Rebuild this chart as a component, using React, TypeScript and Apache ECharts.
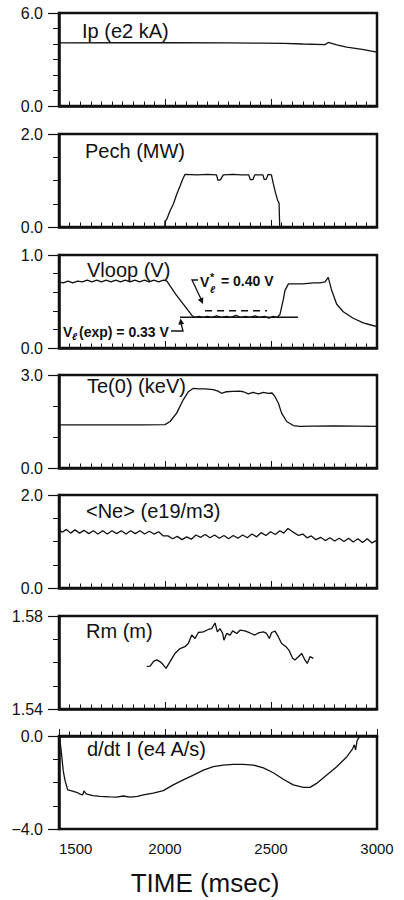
import React, { useEffect, useRef } from "react";
import * as echarts from "echarts";

// Time axis (msec)
const timeRange = [1500, 3000];
const timeTickLabels = ["1500", "2000", "2500", "3000"];

// Plasma current Ip (e2 kA)
const ipData: [number, number][] = [
  [1500, 4.07], [1800, 4.08], [2000, 4.08], [2300, 4.07], [2450, 4.06], [2560, 4.04],
  [2650, 4.0], [2755, 3.96], [2770, 4.1], [2810, 3.95], [2857, 3.8], [2930, 3.65], [3000, 3.47],
];

// ECH power Pech (MW)
const pechData: [number, number][] = [
  [1500, 0], [1999, 0], [2000, 0.13], [2008, 0.16], [2023, 0.34], [2039, 0.49], [2055, 0.7],
  [2071, 0.88], [2083, 1.02], [2094, 1.13], [2150, 1.12], [2200, 1.13], [2243, 1.12],
  [2250, 1.0], [2262, 1.02], [2275, 1.12], [2320, 1.13], [2360, 1.12], [2395, 1.12],
  [2402, 1.02], [2415, 1.02], [2423, 1.12], [2462, 1.12], [2468, 1.02], [2478, 1.03],
  [2486, 1.13], [2502, 1.12], [2510, 0.95], [2521, 0.74], [2533, 0.55], [2538, 0.52],
  [2541, 0.02], [2546, 0], [3000, 0],
];

// Loop voltage Vloop (V)
const vloopData: [number, number][] = [
  [1500, 0.71], [1520, 0.7], [1543, 0.72], [1565, 0.7], [1588, 0.72], [1610, 0.71],
  [1633, 0.73], [1655, 0.71], [1678, 0.73], [1700, 0.71], [1723, 0.73], [1745, 0.71],
  [1768, 0.73], [1790, 0.71], [1813, 0.73], [1835, 0.71], [1858, 0.73], [1880, 0.71],
  [1903, 0.73], [1925, 0.71], [1948, 0.73], [1970, 0.71], [1993, 0.73], [2009, 0.72],
  [2050, 0.58], [2090, 0.46], [2127, 0.35], [2140, 0.33], [2160, 0.34], [2180, 0.33],
  [2200, 0.34], [2220, 0.33], [2245, 0.345], [2265, 0.33], [2290, 0.34], [2310, 0.33],
  [2335, 0.35], [2355, 0.33], [2380, 0.34], [2400, 0.33], [2425, 0.345], [2445, 0.33],
  [2470, 0.34], [2490, 0.32], [2510, 0.34], [2530, 0.33], [2542, 0.36], [2558, 0.52],
  [2566, 0.62], [2582, 0.69], [2605, 0.69], [2650, 0.69], [2700, 0.7], [2731, 0.7],
  [2755, 0.71], [2770, 0.76], [2786, 0.62], [2810, 0.47], [2841, 0.39], [2888, 0.32],
  [2935, 0.27], [2967, 0.25], [3000, 0.23],
];
// Reference loop-voltage levels
const vlExp = 0.33;
const vlStar = 0.4;
const vlExpSpan = [2071, 2627];
const vlStarSpan = [2189, 2481];

// Central electron temperature Te(0) (keV)
const teData: [number, number][] = [
  [1500, 1.39], [1700, 1.39], [1900, 1.39], [2000, 1.4], [2024, 1.5], [2055, 1.77],
  [2086, 2.2], [2110, 2.46], [2134, 2.57], [2160, 2.55], [2190, 2.55], [2228, 2.53],
  [2250, 2.48], [2267, 2.41], [2290, 2.46], [2320, 2.47], [2350, 2.48], [2370, 2.46],
  [2393, 2.39], [2415, 2.44], [2440, 2.39], [2465, 2.44], [2487, 2.41], [2505, 2.42],
  [2519, 2.3], [2535, 2.09], [2550, 1.77], [2574, 1.5], [2605, 1.37], [2637, 1.34],
  [2700, 1.35], [2800, 1.36], [2900, 1.35], [3000, 1.34],
];

// Line-averaged density <Ne> (e19/m3)
const neData: [number, number][] = [
  [1500, 1.26], [1515, 1.2], [1535, 1.26], [1555, 1.18], [1575, 1.25], [1597, 1.18],
  [1618, 1.24], [1640, 1.17], [1662, 1.23], [1684, 1.16], [1706, 1.23], [1728, 1.16],
  [1750, 1.23], [1772, 1.17], [1794, 1.23], [1816, 1.16], [1838, 1.23], [1860, 1.17],
  [1882, 1.23], [1904, 1.16], [1926, 1.22], [1948, 1.16], [1970, 1.21], [1992, 1.12],
  [2014, 1.12], [2036, 1.06], [2058, 1.11], [2080, 1.04], [2102, 1.1], [2124, 1.05],
  [2146, 1.14], [2168, 1.09], [2190, 1.15], [2212, 1.08], [2234, 1.14], [2256, 1.07],
  [2278, 1.13], [2300, 1.06], [2322, 1.13], [2344, 1.07], [2366, 1.14], [2388, 1.08],
  [2410, 1.16], [2432, 1.1], [2454, 1.19], [2476, 1.13], [2498, 1.21], [2520, 1.15],
  [2542, 1.23], [2560, 1.18], [2580, 1.28], [2595, 1.23], [2612, 1.18], [2630, 1.13],
  [2650, 1.16], [2670, 1.08], [2690, 1.12], [2712, 1.04], [2734, 1.09], [2756, 1.02],
  [2778, 1.08], [2800, 1.01], [2822, 1.07], [2844, 1.0], [2866, 1.07], [2888, 0.99],
  [2910, 1.06], [2932, 0.98], [2954, 1.06], [2976, 0.97], [3000, 1.03],
];

// Major radius Rm (m)
const rmData: [number, number][] = [
  [1914, 1.5583], [1930, 1.5584], [1946, 1.5605], [1961, 1.5611], [1976, 1.5604],
  [1992, 1.559], [2005, 1.5575], [2024, 1.5604], [2047, 1.5639], [2071, 1.566],
  [2094, 1.5668], [2110, 1.5682], [2126, 1.5718], [2142, 1.5703], [2157, 1.5729],
  [2181, 1.5732], [2204, 1.5742], [2220, 1.5746], [2236, 1.577], [2247, 1.5732],
  [2259, 1.5746], [2272, 1.5725], [2278, 1.5696], [2291, 1.5725], [2307, 1.5718],
  [2319, 1.5736], [2338, 1.5725], [2354, 1.5739], [2377, 1.5736], [2401, 1.5727],
  [2424, 1.5718], [2440, 1.5727], [2464, 1.5732], [2479, 1.5725], [2492, 1.5703],
  [2503, 1.5729], [2519, 1.5735], [2535, 1.571], [2550, 1.5682], [2571, 1.5668],
  [2586, 1.5651], [2602, 1.5618], [2613, 1.5611], [2629, 1.5625], [2645, 1.5639],
  [2660, 1.5611], [2671, 1.5596], [2684, 1.5625], [2700, 1.5618],
];

// Current derivative d/dt I (e4 A/s)
const didtData: [number, number][] = [
  [1502, -0.05], [1510, -0.6], [1520, -1.5], [1528, -1.9], [1541, -2.32], [1560, -2.36],
  [1583, -2.42], [1600, -2.5], [1612, -2.53], [1618, -2.36], [1628, -2.49], [1660, -2.56],
  [1693, -2.6], [1740, -2.62], [1772, -2.63], [1803, -2.58], [1835, -2.63], [1870, -2.6],
  [1898, -2.53], [1945, -2.46], [1992, -2.35], [2039, -2.1], [2086, -1.89], [2134, -1.68],
  [2181, -1.47], [2228, -1.32], [2275, -1.25], [2322, -1.22], [2369, -1.22], [2417, -1.25],
  [2464, -1.37], [2511, -1.58], [2558, -1.86], [2605, -2.1], [2653, -2.21], [2684, -2.21],
  [2715, -2.04], [2763, -1.68], [2810, -1.32], [2857, -0.9], [2885, -0.55], [2893, -0.38],
  [2899, -0.6], [2906, -0.2], [2918, -0.02],
];

// Y-axis end labels for each panel
const ipTickLabels = ["0.0", "6.0"];
const pechTickLabels = ["0.0", "2.0"];
const vloopTickLabels = ["0.0", "1.0"];
const teTickLabels = ["0.0", "3.0"];
const neTickLabels = ["0.0", "2.0"];
const rmTickLabels = ["1.54", "1.58"];
const didtTickLabels = ["\u22124.0", "0.0"];

const panels = [
  { title: "Ip (e2 kA)", data: ipData, min: 0, max: 6, step: 1, labels: ipTickLabels },
  { title: "Pech (MW)", data: pechData, min: 0, max: 2, step: 0.5, labels: pechTickLabels },
  { title: "Vloop (V)", data: vloopData, min: 0, max: 1, step: 0.2, labels: vloopTickLabels },
  { title: "Te(0) (keV)", data: teData, min: 0, max: 3, step: 1, labels: teTickLabels },
  { title: "<Ne> (e19/m3)", data: neData, min: 0, max: 2, step: 0.5, labels: neTickLabels },
  { title: "Rm (m)", data: rmData, min: 1.54, max: 1.58, step: 0.01, labels: rmTickLabels },
  { title: "d/dt I (e4 A/s)", data: didtData, min: -4, max: 0, step: 1, labels: didtTickLabels },
];

// Panel frame layout
const FRAME_LEFT = 59;
const FRAME_WIDTH = 318;
const FRAME_HEIGHT = 93;
const frameTops = [13, 134, 255, 375, 495, 616, 736];
const titleOffsets = [19, 18, 16, 12, 17, 16, 14];
const titleLefts = [82, 85, 87, 87, 86, 86, 87];

const INK = "#111";
const FONT = "'Liberation Sans', Arial, sans-serif";

function arrowHead(tip: number[], from: number[], len = 6, half = 3) {
  const dx = tip[0] - from[0];
  const dy = tip[1] - from[1];
  const d = Math.hypot(dx, dy) || 1;
  const ux = dx / d;
  const uy = dy / d;
  const bx = tip[0] - ux * len;
  const by = tip[1] - uy * len;
  return {
    type: "polygon",
    shape: {
      points: [
        tip,
        [bx - uy * half, by + ux * half],
        [bx + uy * half, by - ux * half],
      ],
    },
    style: { fill: INK },
    silent: true,
  };
}

function buildOption() {
  const grids: any[] = [];
  const xAxes: any[] = [];
  const yAxes: any[] = [];
  const series: any[] = [];
  const graphics: any[] = [];
  const last = panels.length - 1;

  panels.forEach((p, i) => {
    grids.push({
      left: FRAME_LEFT,
      top: frameTops[i],
      width: FRAME_WIDTH,
      height: FRAME_HEIGHT,
      show: true,
      borderColor: INK,
      borderWidth: 2.5,
      backgroundColor: "transparent",
    });
    xAxes.push({
      type: "value",
      gridIndex: i,
      position: "bottom",
      min: timeRange[0],
      max: timeRange[1],
      interval: 500,
      axisLine: { show: true, lineStyle: { color: INK, width: 2.5 } },
      axisTick: { show: true, inside: true, length: 7, lineStyle: { color: INK, width: 1 } },
      minorTick: { show: true, splitNumber: 10, length: 4.5, lineStyle: { color: INK, width: 1 } },
      splitLine: { show: false },
      minorSplitLine: { show: false },
      axisLabel: {
        show: i === last,
        margin: 12,
        fontFamily: FONT,
        fontSize: 15,
        color: INK,
        alignMinLabel: "left",
        formatter: (v: number) => {
          const k = Math.round((v - timeRange[0]) / 500);
          return timeTickLabels[k] ?? "";
        },
      },
      name: i === last ? "TIME (msec)" : "",
      nameLocation: "middle",
      nameGap: 41,
      nameTextStyle: {
        fontFamily: FONT,
        fontSize: 26,
        color: INK,
        padding: [0, 26, 0, 0],
      },
    });
    // Minor ticks along the value axis
    yAxes.push({
      type: "value",
      gridIndex: i,
      position: "left",
      min: p.min,
      max: p.max,
      interval: p.step,
      axisLine: { show: true, lineStyle: { color: INK, width: 2.5 } },
      axisTick: { show: true, inside: false, length: 6, lineStyle: { color: INK, width: 1 } },
      axisLabel: { show: false },
      splitLine: { show: false },
    });
    // End ticks carrying the labels
    yAxes.push({
      type: "value",
      gridIndex: i,
      position: "left",
      min: 0,
      max: 1,
      interval: 1,
      axisLine: { show: false },
      axisTick: { show: true, inside: false, length: 11, lineStyle: { color: INK, width: 1.2 } },
      axisLabel: {
        show: true,
        margin: 16,
        fontFamily: FONT,
        fontSize: 16,
        color: INK,
        formatter: (v: number) => (v < 0.5 ? p.labels[0] : p.labels[1]),
      },
      splitLine: { show: false },
    });
    series.push({
      type: "line",
      name: p.title,
      xAxisIndex: i,
      yAxisIndex: 2 * i,
      data: p.data,
      symbol: "none",
      clip: true,
      lineStyle: { color: INK, width: 1.3 },
    });
    graphics.push({
      type: "text",
      left: titleLefts[i],
      top: frameTops[i] + titleOffsets[i] - 11,
      silent: true,
      style: {
        text: p.title,
        fontFamily: FONT,
        fontSize: 20,
        fill: INK,
      },
    });
  });

  // Reference loop-voltage levels in the Vloop panel
  series.push({
    type: "line",
    name: "Vl(exp)",
    xAxisIndex: 2,
    yAxisIndex: 4,
    data: [[vlExpSpan[0], vlExp], [vlExpSpan[1], vlExp]],
    symbol: "none",
    lineStyle: { color: INK, width: 1.4 },
  });
  series.push({
    type: "line",
    name: "Vl*",
    xAxisIndex: 2,
    yAxisIndex: 4,
    data: [[vlStarSpan[0], vlStar], [vlStarSpan[1], vlStar]],
    symbol: "none",
    lineStyle: { color: INK, width: 1.6, type: [7, 5] },
  });

  const boldText = (text: string, x: number, y: number, size = 14, extra: any = {}) => ({
    type: "text",
    x,
    y,
    silent: true,
    style: {
      text,
      fontFamily: FONT,
      fontWeight: "bold",
      fontSize: size,
      fill: INK,
      verticalAlign: "middle",
      ...extra,
    },
  });

  // V_l* = 0.40 V annotation
  graphics.push(boldText("V", 200, 282));
  graphics.push(boldText("*", 210, 277, 11));
  graphics.push(boldText("\u2113", 210, 289, 10, { fontStyle: "italic" }));
  graphics.push(boldText("= 0.40 V", 221, 281));
  graphics.push({
    type: "polyline",
    silent: true,
    shape: { points: [[198, 280], [192, 280], [201, 299]] },
    style: { stroke: INK, lineWidth: 1.3, fill: null },
  });
  graphics.push(arrowHead([203, 304], [192, 280]));

  // V_l (exp) = 0.33 V annotation
  graphics.push(boldText("V", 63, 332));
  graphics.push(boldText("\u2113", 72, 336, 10, { fontStyle: "italic" }));
  graphics.push(boldText("(exp) = 0.33 V", 79, 332));
  graphics.push({
    type: "polyline",
    silent: true,
    shape: { points: [[171, 331], [183, 331], [181, 323]] },
    style: { stroke: INK, lineWidth: 1.3, fill: null },
  });
  graphics.push(arrowHead([180.5, 318.5], [182, 331]));

  return {
    animation: false,
    backgroundColor: "#fff",
    grid: grids,
    xAxis: xAxes,
    yAxis: yAxes,
    series,
    graphic: graphics,
  };
}

export default function App() {
  const ref = useRef<HTMLDivElement>(null);

  useEffect(() => {
    document.body.style.margin = "0";
    if (!ref.current) return;
    const chart = echarts.init(ref.current, null, { renderer: "svg" });
    chart.setOption(buildOption() as any);
    return () => chart.dispose();
  }, []);

  return <div ref={ref} style={{ width: 404, height: 900, background: "#fff" }} />;
}
